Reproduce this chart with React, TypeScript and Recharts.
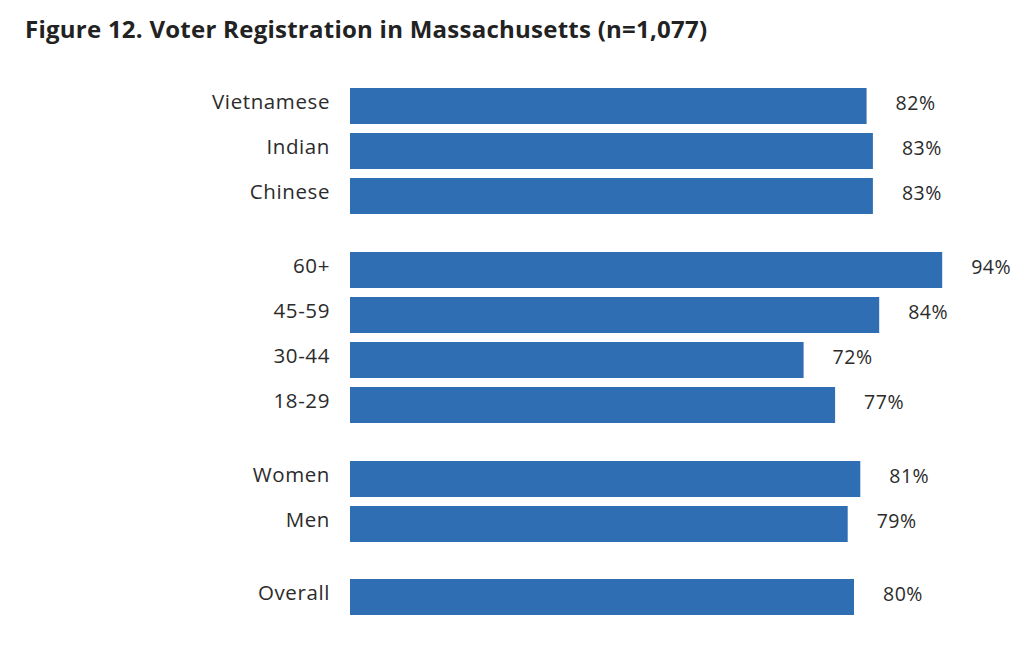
import { BarChart, Bar, XAxis, YAxis, LabelList } from "recharts";

const ethnicity = ["Vietnamese", "Indian", "Chinese"];
const ethnicityValues = [82, 83, 83];
const ageGroups = ["60+", "45-59", "30-44", "18-29"];
const ageValues = [94, 84, 72, 77];
const genders = ["Women", "Men"];
const genderValues = [81, 79];
const overall = ["Overall"];
const overallValues = [80];

const BAR_COLOR = "#306eb4";
const TEXT_COLOR = "#2b2b2b";
const FONT = "'Open Sans', 'Noto Sans', sans-serif";
const ROW = 45;

function toRows(names: string[], values: number[]) {
  return names.map((name, i) => ({ name, value: values[i] }));
}

const groups = [
  { top: 82.5, data: toRows(ethnicity, ethnicityValues) },
  { top: 247, data: toRows(ageGroups, ageValues) },
  { top: 456, data: toRows(genders, genderValues) },
  { top: 574, data: toRows(overall, overallValues) },
];

// category label, nudged a little above the bar centre like the original
function CategoryTick(props: any) {
  const { x, y, payload } = props;
  return (
    <text
      x={x - 20}
      y={y - 5}
      textAnchor="end"
      dominantBaseline="central"
      fill={TEXT_COLOR}
      fontSize={20.5}
      fontFamily={FONT}
      letterSpacing={0.6}
    >
      {payload.value}
    </text>
  );
}

function ValueLabel(props: any) {
  const { x, y, width, height, value } = props;
  return (
    <text
      x={x + width + 29}
      y={y + height / 2 - 4}
      dominantBaseline="central"
      fill={TEXT_COLOR}
      fontSize={19.5}
      fontFamily={FONT}
      letterSpacing={0.5}
    >
      {`${value}%`}
    </text>
  );
}

function GroupChart({ data }: { data: { name: string; value: number }[] }) {
  return (
    <BarChart
      layout="vertical"
      width={1024}
      height={data.length * ROW}
      data={data}
      margin={{ top: 0, right: 44, bottom: 0, left: 0 }}
      barSize={36}
    >
      <XAxis type="number" domain={[0, 100]} hide />
      <YAxis
        type="category"
        dataKey="name"
        width={350}
        axisLine={false}
        tickLine={false}
        tickSize={0}
        tickMargin={0}
        tick={<CategoryTick />}
      />
      <Bar dataKey="value" fill={BAR_COLOR} isAnimationActive={false}>
        <LabelList dataKey="value" content={<ValueLabel />} />
      </Bar>
    </BarChart>
  );
}

export default function App() {
  return (
    <div
      style={{
        position: "relative",
        width: 1024,
        height: 646,
        margin: -8,
        background: "#fff",
        overflow: "hidden",
      }}
    >
      <div
        style={{
          position: "absolute",
          left: 25,
          top: 12,
          fontFamily: FONT,
          fontWeight: 700,
          fontSize: 24,
          letterSpacing: 0.25,
          color: "#222",
          whiteSpace: "nowrap",
        }}
      >
        Figure 12. Voter Registration in Massachusetts (n=1,077)
      </div>
      {groups.map((g, i) => (
        <div key={i} style={{ position: "absolute", left: 0, top: g.top }}>
          <GroupChart data={g.data} />
        </div>
      ))}
    </div>
  );
}
